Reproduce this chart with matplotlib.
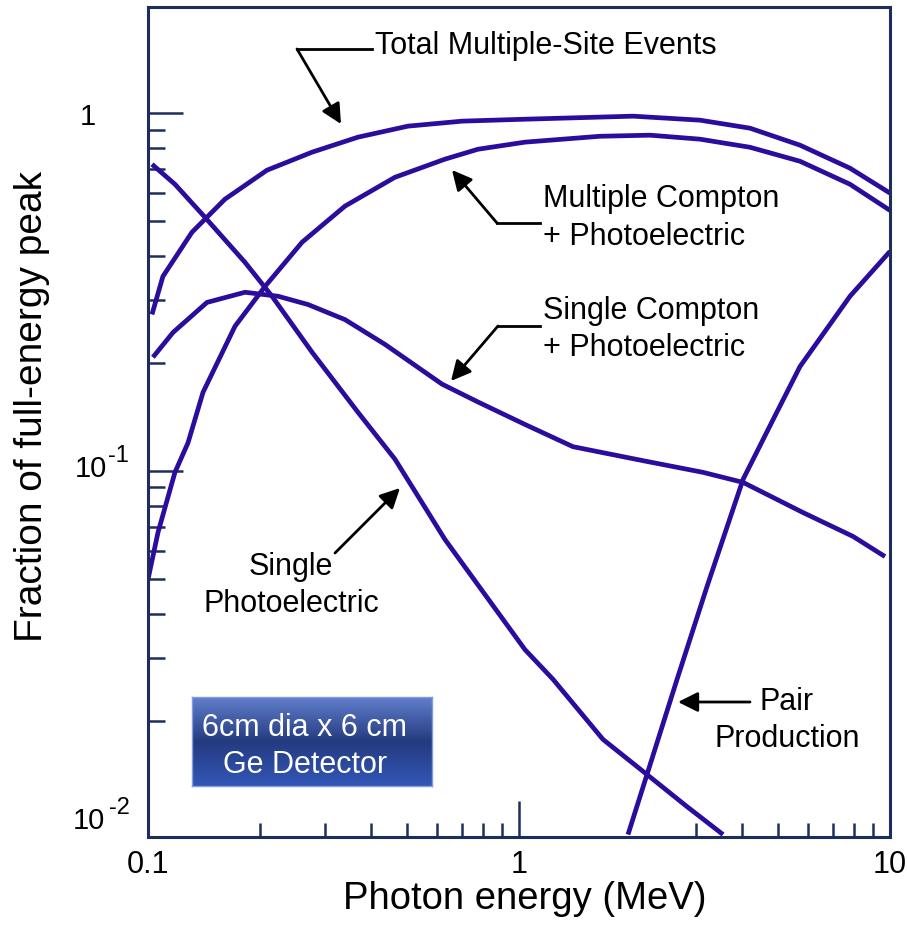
import matplotlib
matplotlib.use("Agg")
import matplotlib.pyplot as plt
import numpy as np
from matplotlib.ticker import FixedLocator, NullFormatter
from matplotlib.lines import Line2D
from matplotlib.transforms import blended_transform_factory, offset_copy

plt.rcParams['font.family'] = ['Liberation Sans', 'DejaVu Sans']

# ---------------- data ----------------
total_x = [0.1025, 0.1097, 0.1314, 0.1612, 0.2093, 0.2767, 0.3681, 0.5021, 0.7021,
           1.038, 2.029, 3.075, 4.195, 5.720, 7.802, 10.0]
total_y = [0.274, 0.350, 0.465, 0.575, 0.693, 0.778, 0.857, 0.920, 0.950,
           0.962, 0.981, 0.956, 0.908, 0.814, 0.702, 0.598]

multi_x = [0.100, 0.1064, 0.1182, 0.1282, 0.1407, 0.1716, 0.2067, 0.2602, 0.3396, 0.4630,
           0.6317, 0.7752, 1.038, 1.653, 2.255, 3.075, 4.195, 5.720, 7.802, 10.0]
multi_y = [0.0498, 0.0674, 0.0992, 0.120, 0.166, 0.254, 0.328, 0.436, 0.550, 0.662,
           0.744, 0.793, 0.830, 0.862, 0.868, 0.846, 0.803, 0.734, 0.633, 0.535]

scomp_x = [0.1031, 0.1168, 0.1442, 0.1826, 0.2241, 0.2700, 0.3396, 0.4352, 0.6201,
           0.7752, 1.038, 1.398, 2.213, 3.133, 4.017, 5.827, 7.949, 9.694]
scomp_y = [0.208, 0.244, 0.296, 0.316, 0.308, 0.292, 0.265, 0.226, 0.175,
           0.156, 0.135, 0.117, 0.1064, 0.0992, 0.0930, 0.0766, 0.0657, 0.0577]

sphoto_x = [0.1025, 0.1182, 0.1424, 0.1826, 0.2159, 0.2767, 0.3681, 0.4630, 0.6317,
            1.038, 1.235, 1.684, 2.213, 2.837, 3.548]
sphoto_y = [0.720, 0.633, 0.512, 0.383, 0.308, 0.215, 0.146, 0.108, 0.0644,
            0.0317, 0.0262, 0.0178, 0.0142, 0.01155, 0.00965]

pair_x = [1.967, 2.213, 2.667, 3.212, 4.017, 4.836, 5.720, 7.802, 10.0]
pair_y = [0.00965, 0.0142, 0.0262, 0.0476, 0.0948, 0.139, 0.196, 0.308, 0.411]

xtick_vals = [0.1, 1, 10]
xtick_labels = ['0.1', '1', '10']
ytick_vals = [0.01, 0.1, 1]
ytick_labels = ['', '', '1']
ypow_vals = [0.01, 0.1]
ypow_exps = ['-2', '-1']

# ---------------- styling ----------------
W, H = 907, 929
navy = '#1d2d5e'
line_c = '#2b0c9c'

fig = plt.figure(figsize=(W / 100, H / 100), dpi=100)
ax = fig.add_axes([148 / W, 1 - 838 / H, 742 / W, 830 / H])

def P(px, py):
    return (px / W, 1 - py / H)

def AX(px):
    return (px - 148) / 742

for xs, ys in [(total_x, total_y), (multi_x, multi_y), (scomp_x, scomp_y),
               (sphoto_x, sphoto_y), (pair_x, pair_y)]:
    ax.plot(xs, ys, color=line_c, lw=3.4, solid_joinstyle='round', solid_capstyle='butt')

ax.set_xscale('log')
ax.set_yscale('log')
ax.set_xlim(0.1, 10)
ax.set_ylim(0.0095, 1.98)

ax.xaxis.set_major_locator(FixedLocator(xtick_vals))
ax.xaxis.set_minor_locator(FixedLocator([0.2, 0.3, 0.4, 0.5, 0.6, 0.7, 0.8, 0.9,
                                         3, 4, 5, 6, 7, 8, 9]))
ax.xaxis.set_minor_formatter(NullFormatter())
ax.yaxis.set_major_locator(FixedLocator(ytick_vals))
ax.yaxis.set_minor_locator(FixedLocator([0.02, 0.03, 0.04, 0.05, 0.06, 0.07, 0.08, 0.09,
                                         0.2, 0.3, 0.4, 0.5, 0.6, 0.7, 0.8, 0.9]))
ax.yaxis.set_minor_formatter(NullFormatter())

ax.tick_params(axis='x', which='major', direction='in', length=26, width=1.8,
               color=navy, labelsize=22, pad=9, top=False)
ax.tick_params(axis='x', which='minor', direction='in', length=10, width=1.8,
               color=navy, top=False)
ax.tick_params(axis='y', which='major', direction='in', length=25, width=1.8,
               color=navy, labelsize=21, pad=49.5, right=False)
ax.tick_params(axis='y', which='minor', direction='in', length=12, width=1.8,
               color=navy, right=False)
ax.set_xticklabels(xtick_labels)
ax.set_yticklabels(ytick_labels, ha='left')
ax.yaxis.get_major_ticks()[0].tick1line.set_visible(False)

# power-of-ten labels with a large superscript, as in the reference
tr = blended_transform_factory(ax.transAxes, ax.transData)
base_off = {0.01: 1, 0.1: -5}
exp_off = {0.01: 16, 0.1: 10}
base_x = {0.01: 73, 0.1: 75}
exp_x = {0.01: 109, 0.1: 108}
for v, e in zip(ypow_vals, ypow_exps):
    ax.text(AX(base_x[v]), v, '10', fontsize=21, ha='left', va='baseline',
            transform=offset_copy(tr, fig, y=base_off[v], units='dots'))
    ax.text(AX(exp_x[v]), v, e, fontsize=17, ha='left', va='baseline',
            transform=offset_copy(tr, fig, y=exp_off[v], units='dots'))

for s in ax.spines.values():
    s.set_color(navy)
    s.set_linewidth(2.2)

ax.set_xlabel('Photon energy (MeV)', fontsize=27.5)
ax.xaxis.set_label_coords(0.508, -0.052)
ax.set_ylabel('Fraction of full-energy peak', fontsize=28)
ax.yaxis.set_label_coords(-0.132, 0.52)

# ---------------- annotations ----------------
aprops = dict(arrowstyle='-|>,head_length=0.6,head_width=0.3', mutation_scale=20,
              lw=2, color='k', shrinkA=0, shrinkB=0)

def arrow(start, tip):
    ax.annotate('', xy=P(*tip), xytext=P(*start), xycoords='figure fraction',
                textcoords='figure fraction', arrowprops=aprops, annotation_clip=False)

def hline(x0, x1, y):
    a, b = P(x0, y), P(x1, y)
    fig.add_artist(Line2D([a[0], b[0]], [a[1], b[1]], transform=fig.transFigure,
                          color='k', lw=2, solid_capstyle='projecting'))

def label(px, py, s, ha='left', color='k', size=22):
    fig.text(*P(px, py), s, ha=ha, va='baseline', fontsize=size, color=color, zorder=10)

# Total Multiple-Site Events
hline(297, 372, 50)
arrow((297, 50), (341, 125))
label(375, 54, 'Total Multiple-Site Events')

# Multiple Compton + Photoelectric
hline(497, 540, 224)
arrow((497, 224), (452, 171))
label(543, 207, 'Multiple Compton')
label(543, 245, '+ Photoelectric')

# Single Compton + Photoelectric
hline(498, 540, 327)
arrow((498, 327), (451, 382))
label(543, 319, 'Single Compton')
label(543, 356, '+ Photoelectric')

# Single Photoelectric
arrow((335, 554), (400, 489))
label(291, 575, 'Single', ha='center')
label(291, 612, 'Photoelectric', ha='center')

# Pair Production
arrow((750, 703), (678, 703))
label(787, 710, 'Pair', ha='center')
label(787, 747, 'Production', ha='center')

# ---------------- detector box ----------------
bax = fig.add_axes([192 / W, 1 - 787 / H, 240 / W, 89 / H])
t = np.linspace(0, 1, 200)
stops_t = [0.0, 0.5, 1.0]
stops_c = [(0.38, 0.50, 0.80), (0.14, 0.23, 0.50), (0.20, 0.34, 0.72)]
grad = np.zeros((len(t), 1, 3))
for k in range(3):
    grad[:, 0, k] = np.interp(t, stops_t, [c[k] for c in stops_c])
bax.imshow(grad, aspect='auto', extent=[0, 1, 0, 1])
bax.set_xticks([])
bax.set_yticks([])
for s in bax.spines.values():
    s.set_color('#7f9de0')
    s.set_linewidth(1)
label(305, 736, '6cm dia x 6 cm', ha='center', color='white')
label(305, 773, 'Ge Detector', ha='center', color='white')

fig.savefig('out.png', dpi=100)
